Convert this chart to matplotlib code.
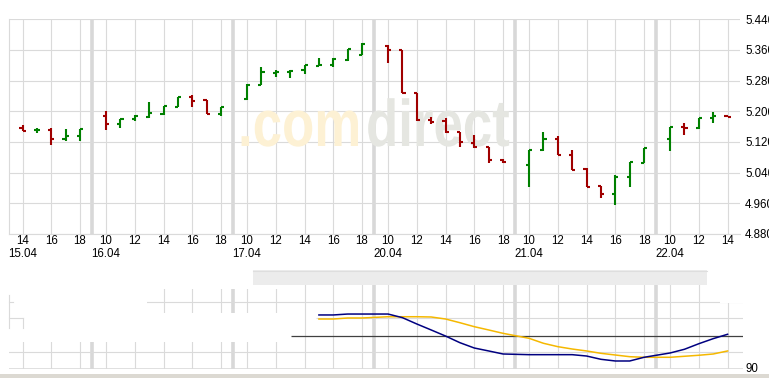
import numpy as np
import matplotlib
matplotlib.use('Agg')
import matplotlib.pyplot as plt
from matplotlib.patches import Rectangle, PathPatch
from matplotlib.textpath import TextPath
from matplotlib.font_manager import FontProperties
from matplotlib.transforms import Affine2D

plt.rcParams['font.family'] = ['Liberation Sans', 'DejaVu Sans']

# Handelstage und Stundenbalken
days = ['15.04', '16.04', '17.04', '20.04', '21.04', '22.04']
day_hours = [[14, 15, 16, 17, 18],
             [10, 11, 12, 13, 14, 15, 16, 17, 18],
             [10, 11, 12, 13, 14, 15, 16, 17, 18],
             [10, 11, 12, 13, 14, 15, 16, 17, 18],
             [10, 11, 12, 13, 14, 15, 16, 17, 18],
             [10, 11, 12, 13, 14]]

opens = [5.157, 5.150, 5.151, 5.127, 5.136,
         5.187, 5.166, 5.179, 5.186, 5.194, 5.212, 5.237, 5.229, 5.194,
         5.231, 5.269, 5.301, 5.302, 5.308, 5.319, 5.320, 5.333, 5.347,
         5.370, 5.359, 5.247, 5.177, 5.174, 5.146, 5.118, 5.106, 5.073,
         5.059, 5.098, 5.127, 5.086, 5.050, 5.004, 4.984, 5.028, 5.066,
         5.127, 5.159, 5.156, 5.182, 5.187]
highs = [5.164, 5.157, 5.156, 5.154, 5.154,
         5.201, 5.180, 5.190, 5.224, 5.214, 5.237, 5.242, 5.230, 5.210,
         5.270, 5.316, 5.308, 5.308, 5.321, 5.338, 5.338, 5.363, 5.377,
         5.372, 5.360, 5.247, 5.184, 5.182, 5.147, 5.138, 5.107, 5.076,
         5.098, 5.146, 5.136, 5.099, 5.051, 5.005, 5.034, 5.067, 5.104,
         5.159, 5.169, 5.183, 5.198, 5.187]
lows = [5.149, 5.144, 5.113, 5.123, 5.123,
        5.152, 5.156, 5.176, 5.183, 5.191, 5.210, 5.211, 5.192, 5.189,
        5.229, 5.268, 5.289, 5.287, 5.297, 5.319, 5.316, 5.332, 5.346,
        5.327, 5.247, 5.176, 5.166, 5.144, 5.106, 5.104, 5.064, 5.064,
        5.003, 5.097, 5.085, 5.047, 5.002, 4.973, 4.956, 5.003, 5.066,
        5.097, 5.139, 5.155, 5.169, 5.184]
closes = [5.149, 5.151, 5.128, 5.136, 5.153,
          5.166, 5.179, 5.189, 5.195, 5.213, 5.237, 5.227, 5.193, 5.210,
          5.269, 5.303, 5.303, 5.306, 5.320, 5.320, 5.336, 5.362, 5.376,
          5.360, 5.248, 5.177, 5.172, 5.145, 5.119, 5.107, 5.072, 5.068,
          5.098, 5.128, 5.086, 5.048, 5.003, 4.984, 5.028, 5.067, 5.104,
          5.158, 5.156, 5.182, 5.187, 5.184]

yticks = [4.88, 4.96, 5.04, 5.12, 5.20, 5.28, 5.36, 5.44]
ylabels = ['4.880', '4.960', '5.040', '5.120', '5.200', '5.280', '5.360', '5.440']

# Indikator (unteres Fenster), ab 17.04 15 Uhr
ind_start = 19
ind_blue = [64.1, 64.1, 65.2, 65.2,
            65.2, 60.9, 53.4, 46.3, 39.1, 31.2, 24.9, 21.4, 17.8,
            17.0, 17.0, 17.0, 17.0, 15.4, 11.5, 9.5, 9.5, 13.9,
            19.0, 23.4, 30.0, 36.0, 41.2]
ind_yellow = [59.3, 59.3, 60.5, 60.5,
              62.0, 62.0, 62.0, 61.7, 59.3, 54.9, 50.2, 46.3, 42.3,
              36.4, 30.5, 26.5, 23.7, 21.4, 18.6, 16.6, 14.6, 13.9,
              13.9, 15.1, 16.3, 17.8, 21.4]
ind_ref = 39.5

W, H = 769, 378
DAY = 9.81      # Abstand zwischen zwei Handelstagen (in Stunden)
PXH = 14.375    # Pixel pro Stunde
X0 = -35        # Pixel fuer 15.04 10 Uhr
grid_c = '#dadada'
sep_c = '#d8d8d8'


def px2x(px):
    return (px - X0) / PXH


xs = []
for d, hrs in enumerate(day_hours):
    for h in hrs:
        xs.append(d * DAY + h - 10)
xs = np.array(xs)
opens = np.array(opens)
closes = np.array(closes)

fig = plt.figure(figsize=(W / 100, H / 100), dpi=100)
ax = fig.add_axes([9 / W, 1 - 234 / H, (740 - 9) / W, (234 - 19.3) / H])
ax2 = fig.add_axes([9 / W, 1 - 369 / H, (743 - 9) / W, (369 - 284.7) / H])


def draw_vgrid(a):
    for d, hrs in enumerate(day_hours):
        for h in hrs:
            if h % 2 == 0:
                a.axvline(d * DAY + h - 10, color=grid_c, lw=0.8, zorder=0)
        if d < len(days) - 1:
            a.axvline(d * DAY + 8.83, color=sep_c, lw=2.6, zorder=0)


# --- Kurschart
ax.set_xlim(px2x(9), px2x(740))
ax.set_ylim(4.88, 5.44)
draw_vgrid(ax)
for v in yticks:
    ax.axhline(v, color=grid_c, lw=0.8, zorder=0)

for s in ['top', 'right']:
    ax.spines[s].set_visible(False)
for s in ['left', 'bottom']:
    ax.spines[s].set_color(grid_c)
    ax.spines[s].set_linewidth(0.8)

# Wasserzeichen (schmal gestaucht)
wm_font = FontProperties(family='Liberation Sans', weight='bold')
for txt, x0, c in [('.com', 238, '#fdf1d4'), ('direct', 366, '#e5e6e1')]:
    tp = TextPath((0, 0), txt, size=66, prop=wm_font)
    tr = Affine2D().scale(0.8, 1.0).translate(x0, H - 146)
    ax.add_patch(PathPatch(tp, transform=tr, fc=c, ec='none', zorder=1))

# OHLC-Balken
col = np.where(closes >= opens, '#008000', '#a00000')
tk = 0.22
ax.vlines(xs, lows, highs, colors=col, lw=1.5, zorder=3)
ax.hlines(opens, xs - tk, xs, colors=col, lw=1.5, zorder=3)
ax.hlines(closes, xs, xs + tk, colors=col, lw=1.5, zorder=3)

# Achsenbeschriftung
xt, xl = [], []
for d, hrs in enumerate(day_hours):
    first = True
    for h in hrs:
        if h % 2 == 0:
            xt.append(d * DAY + h - 10)
            xl.append(str(h) + ('\n' + days[d] if first else ''))
            first = False
ax.set_xticks(xt)
ax.set_xticklabels(xl, fontsize=8.3, linespacing=1.12)
ax.tick_params(axis='x', length=0, pad=1)
ax.yaxis.tick_right()
ax.set_yticks(yticks)
ax.set_yticklabels(ylabels, fontsize=8.3)
ax.tick_params(axis='y', length=0, pad=3.6)

# --- Indikator
ax2.set_xlim(px2x(9), px2x(743))
ax2.set_ylim(0, 100)
draw_vgrid(ax2)
ax2.axhline(0, color=grid_c, lw=1.2, zorder=0)
ax2.axhline(20, color=grid_c, lw=0.8, zorder=0)
ax2.axhline(80, color=grid_c, lw=0.8, zorder=0)
ax2.hlines(60, px2x(316), px2x(743), color=grid_c, lw=0.8, zorder=0)
ax2.hlines(ind_ref, px2x(291), px2x(743), color='#404040', lw=0.9, zorder=1)
ind_x = xs[ind_start:]
ax2.plot(ind_x, ind_yellow, color='#f5b800', lw=1.1, zorder=2)
ax2.plot(ind_x, ind_blue, color='#000080', lw=1.1, zorder=3)
ax2.set_xticks([])
ax2.set_yticks([])
for s in ax2.spines.values():
    s.set_visible(False)

# --- Bildstoerungen / Rahmen (Pixelkoordinaten)
ov = fig.add_axes([0, 0, 1, 1])
ov.set_xlim(0, W)
ov.set_ylim(H, 0)
ov.axis('off')
ov.set_zorder(5)
for (x, y, w, h) in [(0, 262, 290, 27), (0, 289, 147, 24), (0, 313, 290, 28.5),
                     (720, 262, 49, 41)]:
    ov.add_patch(Rectangle((x, y), w, h, fc='white', ec='none', zorder=1))
ov.add_patch(Rectangle((253, 270), 454, 14.7, fc='#ececec', ec='none', zorder=2))
ov.plot([253, 707], [270.5, 270.5], color='#dedede', lw=0.8, zorder=3)
for (x1, y1, x2, y2) in [(9, 295, 9, 328), (9, 301.7, 13, 301.7),
                         (9, 318.3, 23, 318.3), (23, 318.3, 23, 328)]:
    ov.plot([x1, x2], [y1, y2], color=grid_c, lw=0.8, zorder=2)
ov.text(745, 363.5, '90', fontsize=8.3, va='top', ha='left', zorder=2)
ov.add_patch(Rectangle((0, 374), W, 4, fc='#dcd9d2', ec='none', zorder=4))

fig.savefig('out.png', dpi=100)
